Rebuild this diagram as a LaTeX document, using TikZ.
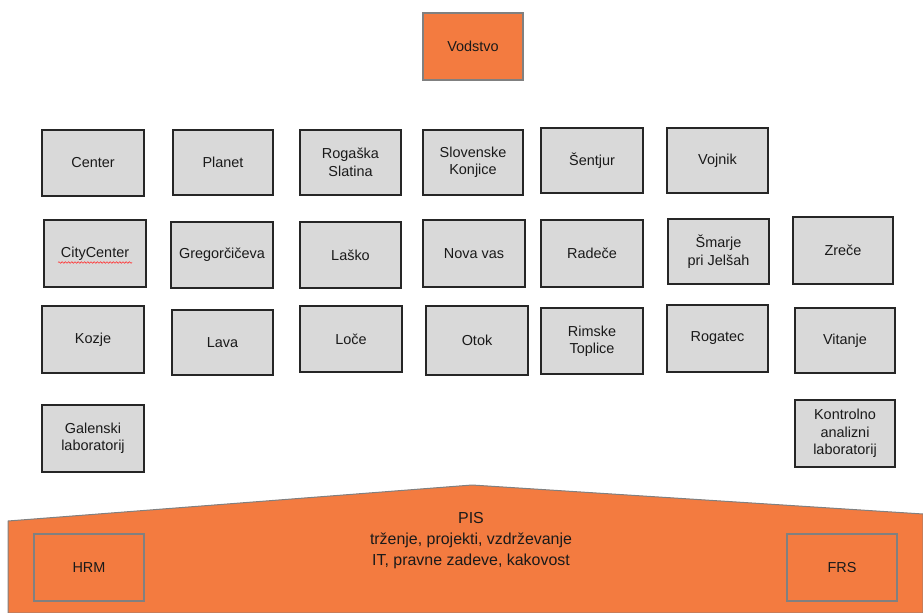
\documentclass[tikz,border=0pt]{standalone}
\usepackage{fontspec}
\setmainfont{Liberation Sans}
\usetikzlibrary{decorations.pathmorphing}
\definecolor{orng}{HTML}{F37B40}
\definecolor{boxgray}{HTML}{D9D9D9}
\definecolor{edgegray}{HTML}{808080}
\definecolor{txt}{HTML}{1A1A1A}
\begin{document}
\begin{tikzpicture}[x=1bp,y=-1bp,
  box/.style={draw=black!85, line width=1.3bp, fill=boxgray, minimum width=101bp, minimum height=66bp,
    align=center, inner sep=0pt, text=txt, font=\fontsize{14.5}{17.5}\selectfont},
  obox/.style={draw=edgegray, line width=1.3bp, fill=orng, minimum width=100bp, minimum height=67bp,
    align=center, inner sep=0pt, text=txt, font=\fontsize{14.5}{17.5}\selectfont},
  inbox/.style={draw=edgegray, line width=1.2bp, minimum width=110bp, minimum height=67bp,
    align=center, inner sep=0pt, text=txt, font=\fontsize{14.5}{17.5}\selectfont}]
\useasboundingbox (0,0) rectangle (923,613);

% base pentagon
\filldraw[fill=orng, draw=edgegray, line width=1bp]
  (8,521) -- (472,485) -- (923,514) -- (923,613) -- (8,613) -- cycle;
\node[align=center, text=txt, font=\fontsize{16}{21}\selectfont] (pis) at (471,541)
  {PIS\\tr\v{z}enje, projekti, vzdr\v{z}evanje\\IT, pravne zadeve, kakovost};
\node[inbox] (hrm) at (89,567.5) {HRM};
\node[inbox] (frs) at (842,567.5) {FRS};

% top
\node[obox] (vodstvo) at (473,46.5) {Vodstvo};

% row 1
\node[box, minimum width=102bp] (center) at (93,163) {Center};
\node[box, minimum width=100bp, minimum height=65bp] (planet) at (223,162.5) {Planet};
\node[box, minimum height=65bp] (rogaska) at (350.5,162.5) {Roga\v{s}ka\\Slatina};
\node[box, minimum width=100bp, minimum height=65bp] (slovenske) at (473,162.5) {Slovenske\\Konjice};
\node[box, minimum width=102bp, minimum height=65bp] (sentjur) at (592,160.5) {\v{S}entjur};
\node[box, minimum height=65bp] (vojnik) at (717.5,160.5) {Vojnik};

% row 2
\node[box, minimum width=102bp, minimum height=67bp] (city) at (95,253.5) {CityCenter};
\draw[red!80, line width=0.6bp, decorate, decoration={snake, amplitude=0.8bp, segment length=3.2bp}]
  ([xshift=-37bp,yshift=-9bp]city.center) -- ([xshift=37bp,yshift=-9bp]city.center);
\node[box, minimum width=102bp] (greg) at (222,255) {Gregor\v{c}i\v{c}eva};
\node[box] (lasko) at (350.5,255) {La\v{s}ko};
\node[box, minimum width=102bp, minimum height=67bp] (novavas) at (474,253.5) {Nova vas};
\node[box, minimum width=102bp, minimum height=67bp] (radece) at (592,253.5) {Rade\v{c}e};
\node[box, minimum height=65bp] (smarje) at (718.5,251.5) {\v{S}marje\\pri Jel\v{s}ah};
\node[box, minimum width=100bp, minimum height=67bp] (zrece) at (843,250.5) {Zre\v{c}e};

% row 3
\node[box, minimum width=102bp, minimum height=67bp] (kozje) at (93,339.5) {Kozje};
\node[box, minimum height=65bp] (lava) at (222.5,342.5) {Lava};
\node[box, minimum width=102bp] (loce) at (351,339) {Lo\v{c}e};
\node[box, minimum width=102bp, minimum height=69bp] (otok) at (477,340.5) {Otok};
\node[box, minimum width=102bp] (rimske) at (592,341) {Rimske\\Toplice};
\node[box, minimum height=67bp] (rogatec) at (717.5,338.5) {Rogatec};
\node[box, minimum width=100bp, minimum height=65bp] (vitanje) at (845,340.5) {Vitanje};

% row 4
\node[box, minimum width=102bp, minimum height=67bp] (galenski) at (93,438.5) {Galenski\\laboratorij};
\node[box, minimum width=100bp, minimum height=67bp] (kontrolno) at (845,433.5) {Kontrolno\\analizni\\laboratorij};
\end{tikzpicture}
\end{document}
